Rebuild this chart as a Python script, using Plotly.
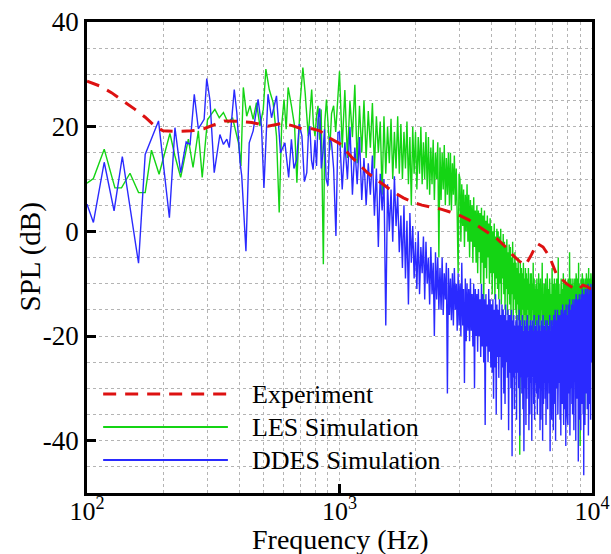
import plotly.graph_objects as go

# ---------------- data ----------------
exp_freq = [100, 112, 125, 140, 155, 170, 186, 200, 230, 260, 290, 320, 350, 400, 450, 520, 590, 650,
            717, 780, 836, 890, 950, 1000, 1060, 1120, 1180, 1290, 1400, 1510, 1650, 1790, 1950, 2120,
            2330, 2540, 2740, 2940, 3250, 3600, 3900, 4200, 4550, 4870, 5150, 5450, 5750, 6060, 6400,
            6800, 7200, 7600, 7920, 8400, 8800, 9200, 9500, 9800, 10000]
exp_spl = [28.7, 27.8, 26.5, 24.9, 23.3, 21.8, 20.1, 19.2, 19.1, 19.2, 19.6, 20.4, 21.1, 21.0, 20.8, 20.1,
           20.6, 20.2, 19.5, 19.6, 19.2, 18.1, 17.3, 16.8, 15.4, 14.1, 13.1, 11.2, 9.9, 8.7, 7.4, 6.4, 5.6,
           5.0, 4.6, 4.2, 3.7, 3.2, 2.2, 0.8, -0.3, -1.4, -3.0, -4.6, -5.7, -6.5, -4.5, -2.3, -3.0, -4.9,
           -8.0, -9.2, -10.0, -10.8, -11.2, -10.3, -10.5, -10.9, -11.0]

les_freq_low = [100, 106, 117, 129, 137, 148, 160, 170, 180, 193, 213, 223, 235, 252, 263, 276, 286, 300,
                311, 321, 334, 347, 362, 377, 398, 407, 416, 429, 442, 455, 469, 484, 499, 511, 527, 546,
                563, 577, 590, 603, 615, 626, 645, 664, 678, 698, 716, 731, 752, 764, 776, 788, 800, 811,
                822, 834, 846, 863, 875, 888, 900, 915, 930, 948, 966, 986]
les_spl_low = [9.2, 10.1, 15.7, 8.3, 8.3, 11.1, 7.4, 7.4, 15.5, 10.9, 18.7, 14.4, 10.3, 17.6, 12.2, 19.2,
               10.3, 21.3, 22.4, 23.3, 21.7, 22.7, 20.8, 21.7, 16.9, 12.5, 27.5, 22.0, 24.0, 21.4, 24.6,
               20.1, 23.3, 31.0, 27.1, 24.6, 18.2, 3.6, 20.1, 25.2, 19.5, 27.5, 24.0, 20.1, 9.3, 24.6,
               31.3, 26.5, 18.2, 23.0, 27.1, 20.5, 18.2, 22.0, 24.0, 17.5, 23.3, -6.3, 21.0, 25.2, 20.1,
               15.5, 22.5, 24.0, 19.0, 26.5]

ddes_freq_low = [100, 106, 117, 128, 138, 160, 170, 180, 192, 212, 223, 235, 247, 256, 266, 276, 291, 298,
                 307, 319, 336, 347, 358, 366, 383, 392, 404, 410, 426, 439, 455, 476, 491, 502, 521, 538,
                 563, 584, 608, 629, 645, 660, 677, 693, 710, 726, 742, 752, 763, 775, 786, 800, 811, 822,
                 835, 847, 860, 872, 885, 900, 915, 930, 948, 968, 986]
ddes_spl_low = [5.2, 1.7, 13.2, 3.9, 14.3, -6.1, 14.7, 17.9, 21.1, 2.6, 19.8, 11.2, 17.1, 16.6, 26.2, 19.6,
                21.4, 29.2, 25.0, 11.2, 18.5, 16.6, 17.6, 16.0, 27.1, 22.7, 13.1, 10.6, -3.8, 16.9, 19.2,
                25.2, 20.1, 8.3, 26.2, 21.7, 25.9, 15.0, 16.9, 10.3, 17.6, 12.0, 13.8, 20.5, 18.2, 9.5,
                11.2, 18.0, 20.1, 13.5, 11.8, 17.5, 12.5, 21.4, 23.5, 12.0, 15.0, 19.5, 10.0, 8.7, 18.0,
                16.9, 12.0, -0.9, 18.9]

# FFT bins above 1 kHz (25 Hz spacing)
freq_high = list(range(1000, 10001, 25))

les_spl_high = [
    30.6, 16, 27, 14, 25, 18, 28, 13, 24, 15,
    25, 14, 23, 16, 24.5, 12, 22, 15, 21, 7,
    22, 11, 20, 13, 21.5, 10, 19, 12, 22, 11,
    20.5, 10, 19, 12, 21, 9, 18, 5, 20, 11,
    19, 8, 18, 11, 20, 9, 17, 10, 19, 8,
    18, 7, 16, 9, 17.5, 6, 15, 10, 17, -5,
    16, 6, 15, 8, 16.5, 5, 14, 7, 15, 5,
    15, 4, 13, 7, 14.5, 5, 12, 3, -8, 11,
    10, -2, 9, 1, 8, -3, 7, 0, 9, -2,
    7, -5, 6, -2, 5, -6, 6.5, -3, 4, -6,
    5, -8, 4, -4, 3.5, -10, 4.5, -6, 3, -15,
    4, -7, 2, -9, 3, -5, 1.5, -10, 2.5, -8,
    1, -12, 0, -8, 1.5, -13, -1, -9, 0.5, -11,
    0, -13, -1, -10, 0.5, -14, -2, -9, -0.5, -12,
    -2, -15, -3, -11, -1.5, -16, -4, -12, -2.5, -14,
    -3, -16, -5, -12, -2, -17, -6, -13, -4, -15,
    -6, -18, -7, -14, -5, -17, -8, -42.7, -6, -16,
    -7, -18, -8, -15, -6, -19, -9, -16, -7, -18,
    -8, -18, -9, -15, -7, -19, -10, -16, -8, -22,
    -8, -17, -10, -15, -6, -27, -9, -16, -11, -18,
    -10, -18, -9, -15, -11, -25, -8, -16, -10, -19,
    -9, -17, -11, -15, -6, -19, -10, -16, -12, -18,
    -10, -18, -9, -14, -11, -29, -8, -16, -10, -18,
    -11, -17, -9, -15, -10, -19, -12, -16, -7, -18,
    -10, -18, -12, -15, -9, -28, -11, -16, -10, -19,
    -9, -17, -11, -15, -5, -18, -10, -16, -12, -19,
    -10, -18, -9, -14, -11, -26, -10, -16, -8, -18,
    -11, -17, -10, -15, -9, -19, -12, -16, -10, -24,
    -10, -18, -9, -15, -11, -19, -4, -16, -10, -18,
    -9, -17, -11, -15, -10, -33, -9, -16, -12, -18,
    -10, -18, -9, -14, -11, -19, -8, -16, -10, -30,
    -9, -17, -11, -15, -6, -19, -10, -16, -12, -41,
    -10, -18, -9, -15, -11, -20, -8, -16, -10, -18,
    -9, -17, -11, -15, -10, -35, -9, -16, -12, -18,
    -8, -17, -10, -14, -9, -19, -11, -16, -7, -18,
    -10, -17, -9, -15, -11, -18, -8, -16, -10, -17,
    -11,
]

ddes_spl_high = [
    19, 8, 17, 10, 20, 7, 16, 9, 18, 6,
    14, 5, 13, 7, 14.5, 3, 12, -3, 11, 4,
    10, -18, 9, 0, 8, -2, 10.5, 1, 7, -4,
    3, -7, 5, -9, 2, -14, 3.5, -6, 1, -9,
    -2, -11, 0, -12, -3, -8, -1, -13, -2, -10,
    -5, -14, -3, -12, -6, -20, -4, -13, -5, -15,
    -7, -15, -5, -16, -8, -13, -6, -31, -7, -16,
    -9, -17, -8, -18, -7, -15, -10, -19, -8, -18,
    -10, -20, -6, -18, -11, -29, -9, -21, -10, -19,
    -11, -21, -9, -19, -12, -22, -10, -30, -11, -20,
    -12, -23, -11, -20, -13, -24, -10, -22, -12, -25,
    -13, -37, -12, -22, -14, -25, -11, -23, -13, -26,
    -14, -27, -13, -32, -15, -26, -12, -35, -14, -24,
    -15, -28, -13, -24, -16, -36, -14, -26, -15, -31,
    -16, -33, -14, -25, -17, -28, -15, -38, -16, -27,
    -16, -30, -15, -43, -17, -28, -16, -34, -18, -27,
    -17, -36, -16, -27, -18, -30, -15, -39, -17, -28,
    -18, -31, -16, -34, -19, -42, -17, -30, -18, -37,
    -17, -32, -16, -28, -19, -38, -18, -35, -17, -29,
    -18, -40, -17, -28, -19, -33, -16, -36, -18, -29,
    -18, -31, -17, -35, -19, -32, -16, -30, -18, -38,
    -19, -36, -17, -28, -18, -40, -16, -33, -18, -29,
    -18, -32, -17, -37, -19, -30, -17, -34, -18, -29,
    -18, -31, -16, -42, -19, -30, -17, -36, -18, -29,
    -17, -38, -16, -28, -18, -33, -15, -40, -17, -29,
    -17, -30, -15, -35, -18, -31, -16, -29, -17, -36,
    -16, -39, -15, -27, -17, -33, -14, -29, -16, -37,
    -16, -30, -15, -34, -17, -41, -14, -29, -16, -35,
    -15, -37, -14, -27, -16, -31, -13, -39, -15, -28,
    -15, -30, -14, -33, -16, -35, -13, -29, -15, -38,
    -14, -34, -13, -26, -15, -40, -12, -28, -14, -32,
    -14, -29, -13, -44, -15, -30, -12, -36, -14, -27,
    -13, -38, -12, -26, -14, -33, -11, -28, -13, -35,
    -13, -46.6, -12, -26, -14, -37, -11, -28, -13, -31,
    -12, -28, -11, -34, -13, -30, -10, -39, -12, -27,
    -12, -33, -11, -26, -13, -36, -10, -27, -12, -25,
    -20,
]

x_tickvals = [100, 1000, 10000]
x_ticktext = ["10<sup>2</sup>", "10<sup>3</sup>", "10<sup>4</sup>"]
x_minor_vals = [200, 300, 400, 500, 600, 700, 800, 900, 2000, 3000, 4000, 5000, 6000, 7000, 8000, 9000]
y_tickvals = [-40, -20, 0, 20, 40]
y_ticktext = ["-40", "-20", "0", "20", "40"]
series_names = ["Experiment", "LES Simulation", "DDES Simulation"]
x_title = "Frequency (Hz)"
y_title = "SPL (dB)"

# ---------------- styling ----------------
FONT = "Liberation Serif"
RED = "#dd1111"
GREEN = "#14d414"
BLUE = "#2a2aff"
GRID = "#b4b4b4"

n_les = min(len(freq_high), len(les_spl_high))
n_ddes = min(len(freq_high), len(ddes_spl_high))
les_x = les_freq_low + freq_high[:n_les]
les_y = les_spl_low + les_spl_high[:n_les]
ddes_x = ddes_freq_low + freq_high[:n_ddes]
ddes_y = ddes_spl_low + ddes_spl_high[:n_ddes]

fig = go.Figure()
fig.add_trace(go.Scatter(x=les_x, y=les_y, mode="lines", name=series_names[1],
                         line=dict(color=GREEN, width=1.4), showlegend=False))
fig.add_trace(go.Scatter(x=ddes_x, y=ddes_y, mode="lines", name=series_names[2],
                         line=dict(color=BLUE, width=1.4), showlegend=False))
fig.add_trace(go.Scatter(x=exp_freq, y=exp_spl, mode="lines", name=series_names[0],
                         line=dict(color=RED, width=3, dash="13px,9px"), showlegend=False))

axis_common = dict(
    showline=True, linecolor="black", linewidth=2.5, mirror=True,
    ticks="inside", ticklen=9, tickwidth=2.5, tickcolor="black",
    showgrid=True, gridcolor=GRID, gridwidth=1, griddash="dot",
    zeroline=False,
)

fig.update_xaxes(type="log", range=[2, 4], tickmode="array", tickvals=x_tickvals, ticktext=x_ticktext,
                 ticklabelstandoff=-7, tickfont=dict(family=FONT, size=26, color="black"),
                 minor=dict(tickmode="array", tickvals=x_minor_vals, showgrid=True, gridcolor=GRID,
                            griddash="dot", gridwidth=1, ticks=""),
                 **axis_common)
fig.update_yaxes(range=[-50, 40], tickmode="array", tickvals=y_tickvals, ticktext=y_ticktext,
                 tickfont=dict(family=FONT, size=27, color="black"),
                 minor=dict(dtick=5, tick0=0, showgrid=True, gridcolor=GRID, griddash="dot",
                            gridwidth=1, ticks=""),
                 **axis_common)

# legend drawn by hand (long line samples like the reference)
legend_rows = [(0.210, RED, "dash", 3), (0.140, GREEN, "solid", 2), (0.070, BLUE, "solid", 2)]
shapes = []
annotations = []
for (yy, col, dsh, w), name in zip(legend_rows, series_names):
    shapes.append(dict(type="line", xref="paper", yref="paper", x0=0.032, x1=0.279, y0=yy, y1=yy,
                       line=dict(color=col, width=w, dash=("13px,9px" if dsh == "dash" else "solid"))))
    annotations.append(dict(xref="paper", yref="paper", x=0.323, y=yy, xanchor="left", yanchor="middle",
                            text=name, showarrow=False, font=dict(family=FONT, size=26, color="black")))

annotations.append(dict(xref="paper", yref="paper", x=0.5, y=0, xanchor="center", yanchor="middle",
                        yshift=-46, text=x_title, showarrow=False,
                        font=dict(family=FONT, size=28, color="black")))
annotations.append(dict(xref="paper", yref="paper", x=0, y=0.5, xanchor="center", yanchor="middle",
                        xshift=-57, textangle=-90, text=y_title, showarrow=False,
                        font=dict(family=FONT, size=29, color="black")))

fig.update_layout(
    width=611, height=554,
    margin=dict(l=87, r=19, t=22, b=61, autoexpand=False),
    paper_bgcolor="white", plot_bgcolor="white",
    shapes=shapes, annotations=annotations,
    font=dict(family=FONT, color="black"),
)

fig.write_html("out.html")
